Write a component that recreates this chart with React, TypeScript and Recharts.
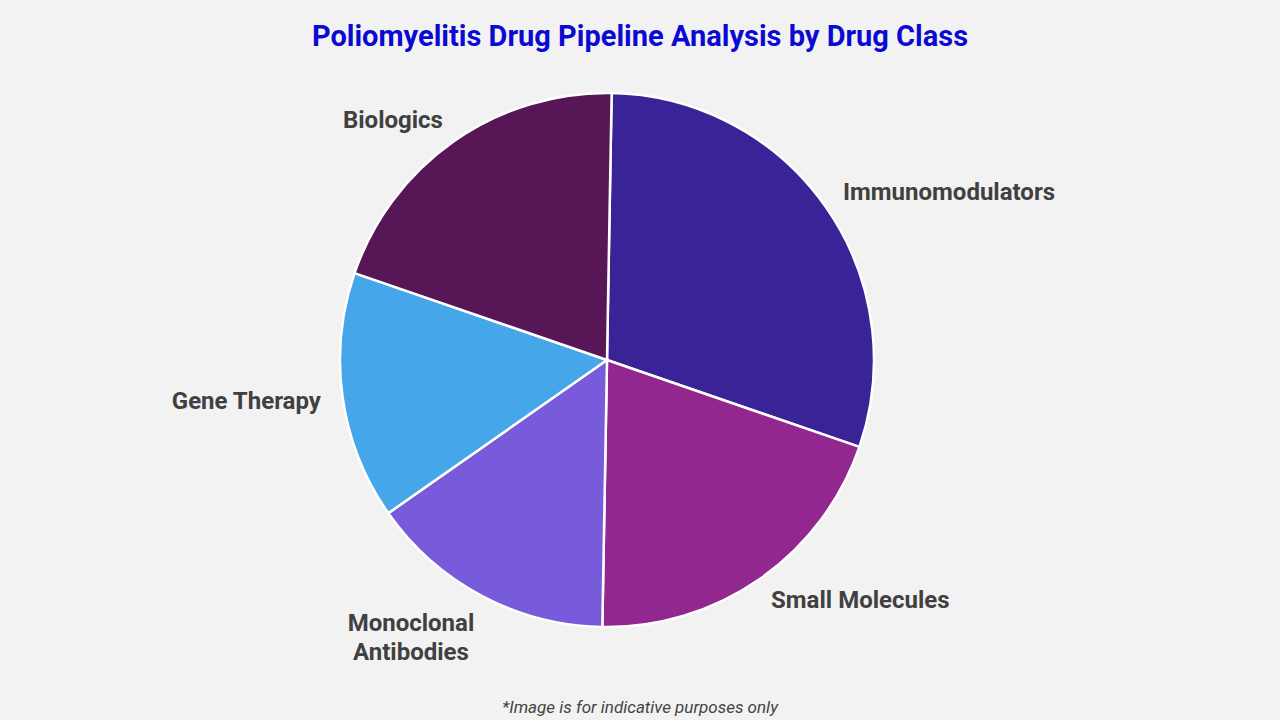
import { Cell, Pie, PieChart } from "recharts";

// drug classes, in clockwise order from 12 o'clock
const classes = [
  "Immunomodulators",
  "Small Molecules",
  "Monoclonal Antibodies",
  "Gene Therapy",
  "Biologics",
];
const shares = [30, 20, 15, 15, 20];
const colors = ["#3A2397", "#92278F", "#775BDB", "#46A6EA", "#571756"];

const labelLines: Record<string, string[]> = {
  "Monoclonal Antibodies": ["Monoclonal", "Antibodies"],
};

const data = classes.map((name, i) => ({ name, value: shares[i] }));

const RADIAN = Math.PI / 180;

const renderLabel = (props: any) => {
  const { cx, cy, midAngle, outerRadius, name } = props;
  const r = outerRadius + 26;
  const right = Math.cos(-midAngle * RADIAN) > 0;
  // labels sit a touch closer horizontally than vertically
  const x = cx + r * Math.cos(-midAngle * RADIAN) + (right ? -4 : 4);
  const y = cy + r * Math.sin(-midAngle * RADIAN);
  const lines = labelLines[name] ?? [name];
  if (lines.length > 1) {
    // wrapped labels are centred on their widest line
    const w = Math.max(...lines.map((l) => l.length)) * 12.5;
    const mx = right ? x + w / 2 : x - w / 2;
    return (
      <text
        x={mx}
        y={y + 12}
        fill="#404040"
        textAnchor="middle"
        fontSize={24}
        fontWeight="bold"
        fontFamily="Roboto"
      >
        {lines.map((l, i) => (
          <tspan key={l} x={mx} dy={i === 0 ? 0 : 29}>
            {l}
          </tspan>
        ))}
      </text>
    );
  }
  return (
    <text
      x={x}
      y={y}
      fill="#404040"
      textAnchor={right ? "start" : "end"}
      dominantBaseline="central"
      fontSize={24}
      fontWeight="bold"
      fontFamily="Roboto"
    >
      {name}
    </text>
  );
};

export default function App() {
  return (
    <div
      style={{
        position: "absolute",
        left: 0,
        top: 0,
        width: 1280,
        height: 720,
        background: "#F2F2F2",
        fontFamily: "Roboto",
      }}
    >
      <div
        style={{
          position: "absolute",
          top: 19,
          width: 1280,
          textAlign: "center",
          color: "#0A0AD2",
          fontSize: 29,
          fontWeight: "bold",
        }}
      >
        Poliomyelitis Drug Pipeline Analysis by Drug Class
      </div>
      <PieChart
        width={1280}
        height={720}
        margin={{ top: 0, right: 0, bottom: 0, left: 0 }}
      >
        <Pie
          data={data}
          dataKey="value"
          nameKey="name"
          cx={607}
          cy={360}
          outerRadius={267}
          startAngle={89}
          endAngle={-271}
          stroke="#FFFFFF"
          strokeWidth={2.5}
          label={renderLabel}
          labelLine={false}
          isAnimationActive={false}
        >
          {data.map((d, i) => (
            <Cell key={d.name} fill={colors[i]} />
          ))}
        </Pie>
      </PieChart>
      <div
        style={{
          position: "absolute",
          top: 697,
          width: 1280,
          textAlign: "center",
          color: "#444444",
          fontSize: 17,
          fontStyle: "italic",
        }}
      >
        *Image is for indicative purposes only
      </div>
    </div>
  );
}
